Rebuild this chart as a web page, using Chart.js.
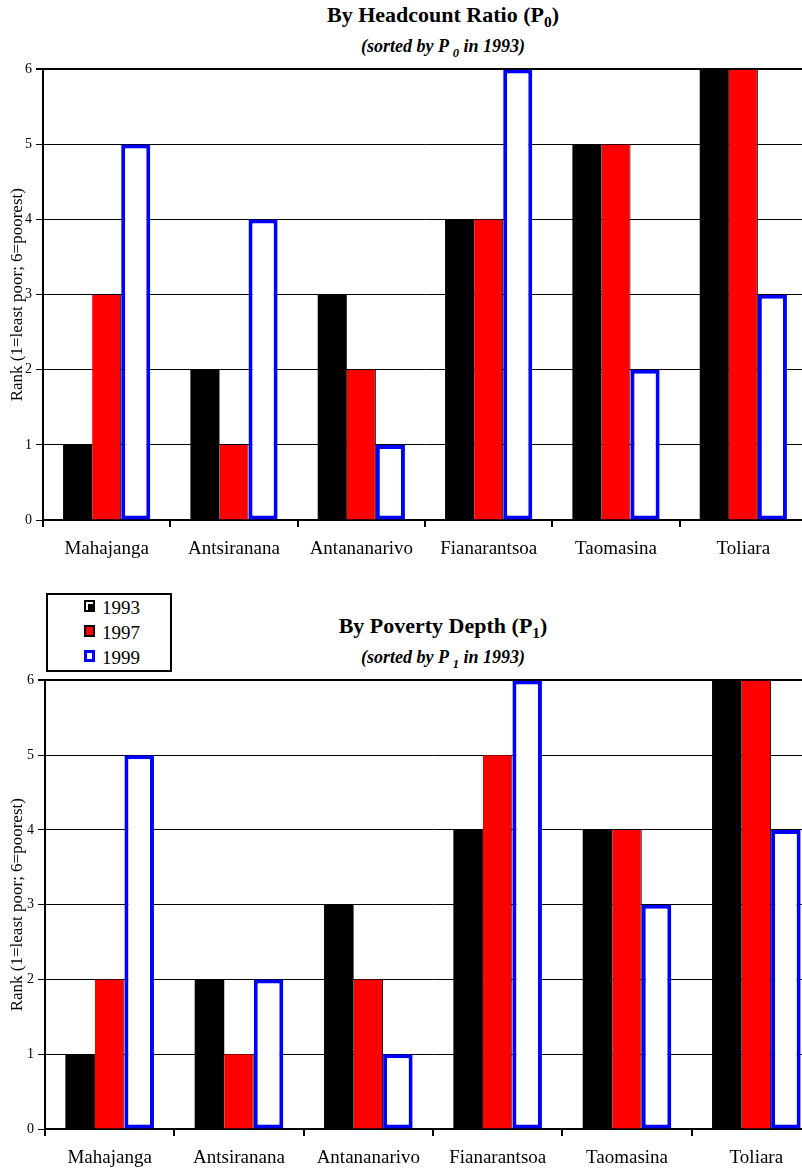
<!DOCTYPE html>
<html>
<head>
<meta charset="utf-8">
<script src="https://cdn.jsdelivr.net/npm/chart.js@4/dist/chart.umd.min.js"></script>
<style>
  body { margin: 0; width: 802px; height: 1174px; overflow: hidden; position: relative; background: #fff; font-family: "Liberation Serif", "Times New Roman", serif; }
  canvas { position: absolute; left: 0; }
  .title { position: absolute; left: 243px; width: 400px; text-align: center; font-weight: bold; font-size: 22px; line-height: 22px; }
  .sub { position: absolute; left: 243px; width: 400px; text-align: center; font-weight: bold; font-style: italic; font-size: 18px; line-height: 18px; }
  sub { font-size: 70%; line-height: 0; }
  #legend { position: absolute; left: 46px; top: 593px; width: 122px; height: 75px; border: 2px solid #000; font-size: 19px; }
  #legend div { position: absolute; left: 36px; height: 22px; line-height: 22px; }
  #legend span { display: inline-block; width: 7px; height: 8px; margin-right: 7px; vertical-align: 2px; }
</style>
</head>
<body>
<div class="title" style="top:4px">By Headcount Ratio (P<sub>0</sub>)</div>
<div class="sub" style="top:37px">(sorted by P <sub>0</sub> in 1993)</div>
<canvas id="c1" width="810" height="513" style="top:57px"></canvas>

<div id="legend">
  <div style="top:2px"><span style="border:2px solid #000;background:#000;box-shadow:inset 2px 2px 0 #fff"></span>1993</div>
  <div style="top:27px"><span style="border:2px solid #000;background:#f00"></span>1997</div>
  <div style="top:52px"><span style="border:3px solid #00f;background:#fff;width:5px;height:6px"></span>1999</div>
</div>
<div class="title" style="top:615px">By Poverty Depth (P<sub>1</sub>)</div>
<div class="sub" style="top:648px">(sorted by P <sub>1</sub> in 1993)</div>
<canvas id="c2" width="824" height="511" style="top:668px"></canvas>

<script>
const regions1 = ['Mahajanga', 'Antsiranana', 'Antananarivo', 'Fianarantsoa', 'Taomasina', 'Toliara'];
const p0_1993 = [1, 2, 3, 4, 5, 6];
const p0_1997 = [3, 1, 2, 4, 5, 6];
const p0_1999 = [5, 4, 1, 6, 2, 3];

const regions2 = ['Mahajanga', 'Antsiranana', 'Antananarivo', 'Fianarantsoa', 'Taomasina', 'Toliara'];
const p1_1993 = [1, 2, 3, 4, 4, 6];
const p1_1997 = [2, 1, 2, 5, 4, 6];
const p1_1999 = [5, 2, 1, 6, 3, 4];

const rankTicks = [0, 1, 2, 3, 4, 5, 6];
const serif = '"Liberation Serif", "Times New Roman", serif';

function makeChart(id, labels, a, b, c, yWidth) {
  new Chart(document.getElementById(id), {
    type: 'bar',
    data: {
      labels: labels,
      datasets: [
        { label: '1993', data: a, backgroundColor: '#000', borderWidth: 0 },
        { label: '1997', data: b, backgroundColor: '#f00', borderColor: '#000', borderWidth: { right: 1 }, borderSkipped: false },
        { label: '1999', data: c, backgroundColor: '#fff', borderColor: '#00f', borderWidth: 4, borderSkipped: false }
      ]
    },
    options: {
      responsive: false,
      animation: false,
      devicePixelRatio: 1,
      layout: { padding: { top: 10, right: 3, left: 0, bottom: 0 } },
      plugins: { legend: { display: false }, tooltip: { enabled: false } },
      datasets: { bar: { categoryPercentage: 0.685, barPercentage: 1 } },
      scales: {
        x: {
          afterFit: s => { s.height = 50; },
          grid: { offset: true, drawOnChartArea: false, color: '#000', lineWidth: 2, tickLength: 7 },
          border: { color: '#000', width: 2 },
          ticks: { color: '#000', font: { family: serif, size: 19 }, padding: 11, maxRotation: 0, autoSkip: false }
        },
        y: {
          min: 0, max: 6,
          afterFit: s => { s.width = yWidth; },
          afterBuildTicks: s => { s.ticks = rankTicks.map(v => ({ value: v })); },
          grid: { color: '#000', lineWidth: ctx => (ctx.tick && ctx.tick.value === 6) ? 2 : 1, tickLength: 7 },
          border: { color: '#000', width: 2 },
          ticks: { color: '#000', font: { family: serif, size: 14 }, padding: 4 },
          title: { display: true, text: 'Rank (1=least poor; 6=poorest)', color: '#000', font: { family: serif, size: 17 }, padding: { top: 7, bottom: 0 } }
        }
      }
    }
  });
}

makeChart('c1', regions1, p0_1993, p0_1997, p0_1999, 43);
makeChart('c2', regions2, p1_1993, p1_1997, p1_1999, 45);
</script>
</body>
</html>
